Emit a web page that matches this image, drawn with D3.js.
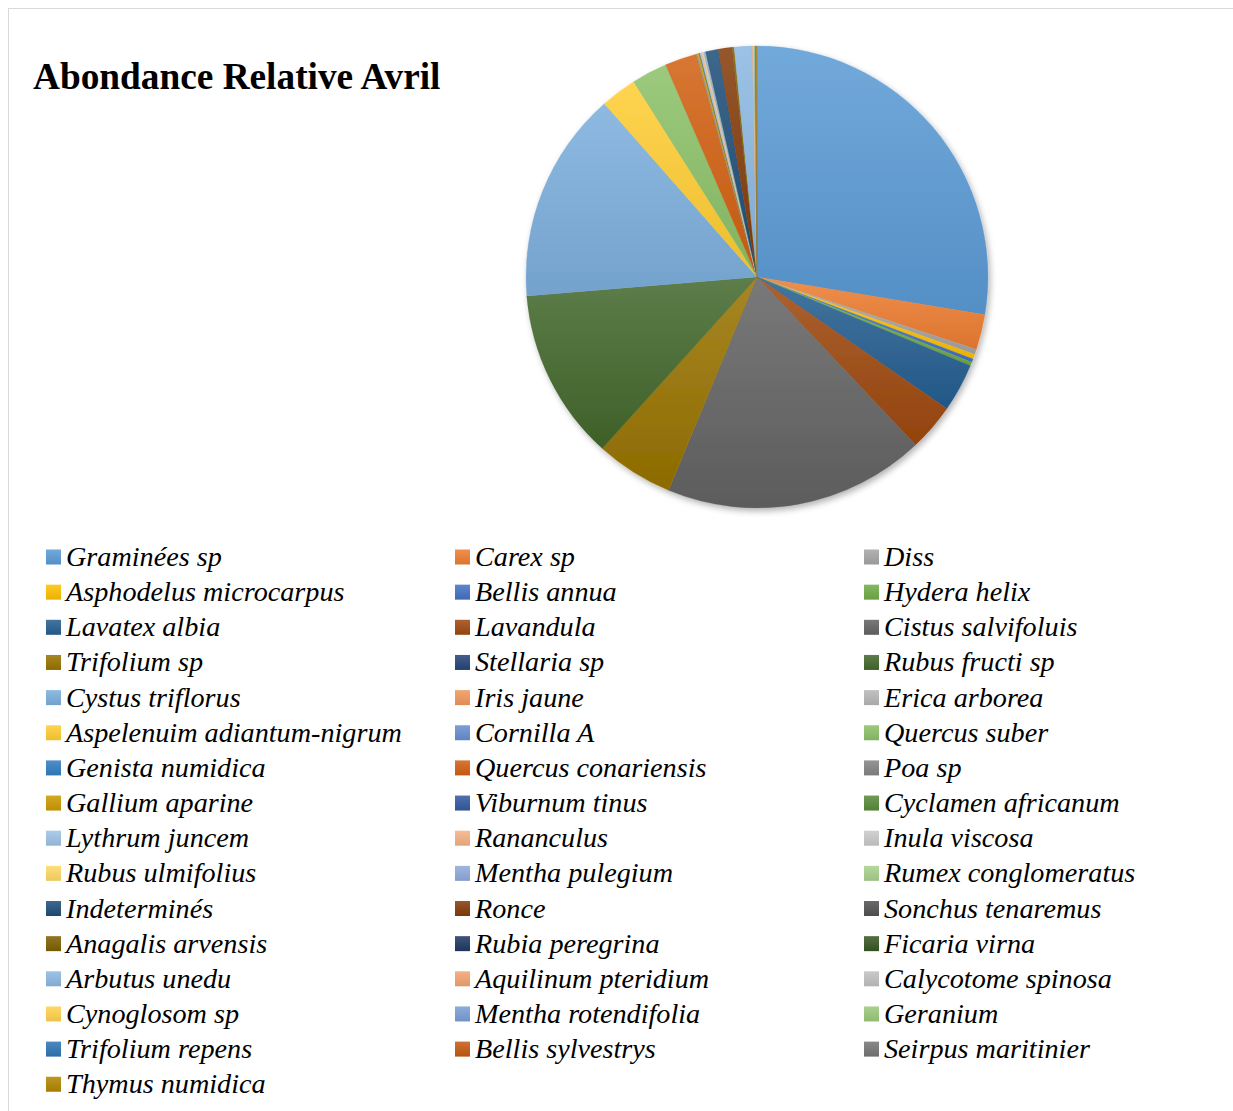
<!DOCTYPE html>
<html>
<head>
<meta charset="utf-8">
<script src="https://cdn.jsdelivr.net/npm/d3@7"></script>
<style>
  html, body { margin: 0; padding: 0; background: #fff; }
  svg { display: block; }
</style>
</head>
<body>
<svg id="chart" width="1233" height="1111"></svg>
<script>
// Relative abundance (%) of each species, April survey
const species = [
  "Graminées sp", "Carex sp", "Diss",
  "Asphodelus microcarpus", "Bellis annua", "Hydera helix",
  "Lavatex albia", "Lavandula", "Cistus salvifoluis",
  "Trifolium sp", "Stellaria sp", "Rubus fructi sp",
  "Cystus triflorus", "Iris jaune", "Erica arborea",
  "Aspelenuim adiantum-nigrum", "Cornilla A", "Quercus suber",
  "Genista numidica", "Quercus conariensis", "Poa sp",
  "Gallium aparine", "Viburnum tinus", "Cyclamen africanum",
  "Lythrum juncem", "Rananculus", "Inula viscosa",
  "Rubus ulmifolius", "Mentha pulegium", "Rumex conglomeratus",
  "Indeterminés", "Ronce", "Sonchus tenaremus",
  "Anagalis arvensis", "Rubia peregrina", "Ficaria virna",
  "Arbutus unedu", "Aquilinum pteridium", "Calycotome spinosa",
  "Cynoglosom sp", "Mentha rotendifolia", "Geranium",
  "Trifolium repens", "Bellis sylvestrys", "Seirpus maritinier",
  "Thymus numidica"
];

const abundance = [
  27.64, 2.47, 0.36,
  0.33, 0.25, 0.25,
  3.39, 3.31, 18.31,
  5.42, 0, 12.03,
  14.83, 0, 0,
  2.53, 0, 2.50,
  0, 2.22, 0.08,
  0.14, 0.03, 0.03,
  0.08, 0.08, 0.06,
  0.03, 0.11, 0.03,
  0.89, 0.97, 0,
  0.14, 0, 0,
  1.25, 0.06, 0.03,
  0.03, 0.03, 0.06,
  0.03, 0.03, 0.03,
  0.03
];

// Office theme accent palette with its darker / lighter variants
const palette = [
  "#5B9BD5", "#ED7D31", "#A5A5A5", "#FFC000", "#4472C4", "#70AD47",
  "#255E91", "#9E480E", "#636363", "#997300", "#264478", "#43682B",
  "#7CAFDD", "#F1975A", "#B7B7B7", "#FFCD33", "#698ED0", "#8CC168",
  "#327DC2", "#D26012", "#848484", "#CC9A00", "#335AA1", "#5A8A39",
  "#9DC3E6", "#F4B183", "#C9C9C9", "#FFD966", "#8FAADC", "#A9D18E",
  "#1F4E79", "#843C0B", "#525252", "#7F6000", "#203864", "#385723",
  "#8CB8E2", "#F2A36F", "#C0C0C0", "#FFD24D", "#7C9DD6", "#9AC97B",
  "#2E75B6", "#C55A11", "#767676", "#B38600"
];

const chartTitle = "Abondance Relative Avril";

const svg = d3.select("#chart");
const defs = svg.append("defs");

// chart frame
svg.append("rect")
  .attr("x", 8.5).attr("y", 8.5)
  .attr("width", 1240).attr("height", 1120)
  .attr("fill", "#fff")
  .attr("stroke", "#d9d9d9")
  .attr("stroke-width", 1);

// soft outer shadow under the pie
const shadow = defs.append("filter")
  .attr("id", "pieShadow")
  .attr("x", "-10%").attr("y", "-10%")
  .attr("width", "120%").attr("height", "120%");
shadow.append("feDropShadow")
  .attr("dx", 2).attr("dy", 3)
  .attr("stdDeviation", 3)
  .attr("flood-color", "#000")
  .attr("flood-opacity", 0.3);

// vertical shading gradient for each colour
const color = d3.scaleOrdinal().domain(species).range(palette);
species.forEach((s, i) => {
  const c = palette[i];
  const g = defs.append("linearGradient")
    .attr("id", "grad" + i)
    .attr("x1", 0).attr("y1", 0).attr("x2", 0).attr("y2", 1);
  g.append("stop").attr("offset", "0%")
    .attr("stop-color", d3.interpolateRgb(c, "#ffffff")(0.14));
  g.append("stop").attr("offset", "100%")
    .attr("stop-color", d3.color(c).darker(0.22).formatHex());
});

// title
svg.append("text")
  .attr("x", 33).attr("y", 89)
  .attr("font-family", "'Liberation Serif', 'Times New Roman', serif")
  .attr("font-weight", "bold")
  .attr("font-size", 37.3)
  .attr("fill", "#000")
  .text(chartTitle);

// pie
const cx = 757, cy = 277, radius = 231;
const data = species.map((s, i) => ({ name: s, value: abundance[i], idx: i }));
const pie = d3.pie().sort(null).value(d => d.value).startAngle(0).endAngle(2 * Math.PI);
const arc = d3.arc().innerRadius(0).outerRadius(radius);

const pieG = svg.append("g")
  .attr("transform", `translate(${cx},${cy})`)
  .attr("filter", "url(#pieShadow)");

pieG.selectAll("path")
  .data(pie(data))
  .join("path")
  .attr("d", arc)
  .attr("fill", d => `url(#grad${d.data.idx})`)
  .attr("stroke", d => color(d.data.name))
  .attr("stroke-width", d => d.value > 0 ? 0.3 : 0);

// legend: three columns, filled row by row
const colX = [46, 455, 864];
const rowY0 = 557, rowStep = 35.15;
const legend = svg.append("g");
const items = legend.selectAll("g")
  .data(data)
  .join("g")
  .attr("transform", (d, i) => `translate(${colX[i % 3]},${rowY0 + Math.floor(i / 3) * rowStep})`);

items.append("rect")
  .attr("x", 0).attr("y", -7.5)
  .attr("width", 15).attr("height", 15)
  .attr("fill", d => `url(#grad${d.idx})`);

items.append("text")
  .attr("x", 20).attr("y", 9)
  .attr("font-family", "'Liberation Serif', 'Times New Roman', serif")
  .attr("font-style", "italic")
  .attr("font-size", 28.2)
  .attr("fill", "#000")
  .text(d => d.name);
</script>
</body>
</html>
